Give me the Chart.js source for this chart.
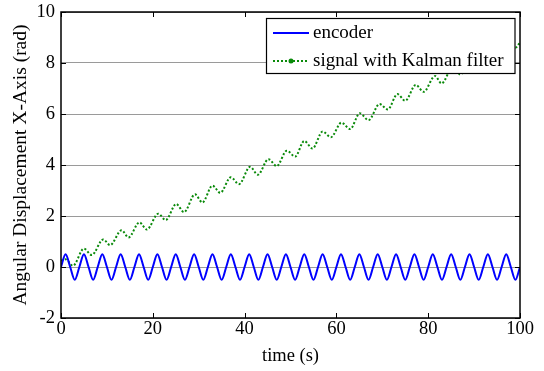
<!DOCTYPE html>
<html>
<head>
<meta charset="utf-8">
<title>Angular Displacement X-Axis</title>
<script src="https://cdn.jsdelivr.net/npm/chart.js@4.4.0/dist/chart.umd.min.js"></script>
<style>
  body { margin: 0; background: #fff; }
  #myChart { display: block; }
</style>
</head>
<body>
<canvas id="myChart" width="544" height="371"></canvas>
<script>
// encoder samples, time in s / angle in rad (quarter period points)
const encTime = [
    0, 1, 2, 3, 4, 5, 6, 7, 8, 9, 10, 11, 12, 13, 14, 15, 16, 17, 18, 19,
    20, 21, 22, 23, 24, 25, 26, 27, 28, 29, 30, 31, 32, 33, 34, 35, 36, 37, 38, 39,
    40, 41, 42, 43, 44, 45, 46, 47, 48, 49, 50, 51, 52, 53, 54, 55, 56, 57, 58, 59,
    60, 61, 62, 63, 64, 65, 66, 67, 68, 69, 70, 71, 72, 73, 74, 75, 76, 77, 78, 79,
    80, 81, 82, 83, 84, 85, 86, 87, 88, 89, 90, 91, 92, 93, 94, 95, 96, 97, 98, 99, 100
];
const encValues = [
    0, 0.5, 0, -0.5, 0, 0.5, 0, -0.5, 0, 0.5, 0, -0.5, 0, 0.5, 0, -0.5, 0, 0.5, 0, -0.5,
    0, 0.5, 0, -0.5, 0, 0.5, 0, -0.5, 0, 0.5, 0, -0.5, 0, 0.5, 0, -0.5, 0, 0.5, 0, -0.5,
    0, 0.5, 0, -0.5, 0, 0.5, 0, -0.5, 0, 0.5, 0, -0.5, 0, 0.5, 0, -0.5, 0, 0.5, 0, -0.5,
    0, 0.5, 0, -0.5, 0, 0.5, 0, -0.5, 0, 0.5, 0, -0.5, 0, 0.5, 0, -0.5, 0, 0.5, 0, -0.5,
    0, 0.5, 0, -0.5, 0, 0.5, 0, -0.5, 0, 0.5, 0, -0.5, 0, 0.5, 0, -0.5, 0, 0.5, 0, -0.5, 0
];

// kalman filter signal - the peaks and dips
const kalTime = [
    0, 1.0, 2.6, 5.0, 6.7, 9.2, 10.7, 13.2, 14.7, 17.1, 18.7, 21.2, 22.8, 25.1, 26.8,
    29.2, 30.8, 33.0, 34.7, 37.0, 38.8, 41.2, 42.9, 45.2, 47.0, 49.2, 51.0, 53.0, 54.8,
    57.0, 58.8, 61.1, 63.0, 65.1, 67.0, 69.4, 71.2, 73.3, 75.0, 77.3, 79.0, 81.5, 82.9,
    85.4, 87.0, 89.4, 91.0, 93.4, 95.0, 97.4, 99.0, 100
];
const kalValues = [
    0.25, 0.3, 0.05, 0.72, 0.47, 1.08, 0.86, 1.44, 1.16, 1.75, 1.47, 2.09, 1.84, 2.47, 2.15,
    2.85, 2.53, 3.19, 2.91, 3.52, 3.25, 3.93, 3.62, 4.23, 3.96, 4.56, 4.33, 4.94, 4.65,
    5.31, 5.09, 5.66, 5.41, 6.03, 5.76, 6.39, 6.18, 6.78, 6.52, 7.14, 6.87, 7.49, 7.2,
    7.85, 7.55, 8.2, 7.9, 8.55, 8.25, 8.9, 8.6, 8.8
];

const xTicks = [0, 20, 40, 60, 80, 100];
const yTicks = [-2, 0, 2, 4, 6, 8, 10];
const seriesNames = ['encoder', 'signal with Kalman filter'];

const serif = '"Liberation Serif", "Times New Roman", serif';
const blue = '#0000ff';
const green = '#0a8a0a';

// box round the plot, matlab style inward ticks and the legend inside the axes
const frame = {
    id: 'frame',
    afterDatasetsDraw(chart) {
        const { ctx, chartArea: a, scales } = chart;
        ctx.save();
        ctx.strokeStyle = '#000';
        ctx.lineWidth = 1;
        ctx.beginPath();
        xTicks.forEach(v => {
            const px = Math.round(scales.x.getPixelForValue(v)) + 0.5;
            ctx.moveTo(px, a.bottom); ctx.lineTo(px, a.bottom - 5);
            ctx.moveTo(px, a.top); ctx.lineTo(px, a.top + 5);
        });
        yTicks.forEach(v => {
            const py = Math.round(scales.y.getPixelForValue(v)) + 0.5;
            ctx.moveTo(a.left, py); ctx.lineTo(a.left + 5, py);
            ctx.moveTo(a.right, py); ctx.lineTo(a.right - 5, py);
        });
        ctx.stroke();
        ctx.lineWidth = 1.5;
        ctx.strokeRect(a.left, a.top, a.right - a.left, a.bottom - a.top);

        // legend
        const bx = 266.5, by = 18.5, bw = 248.5, bh = 55;
        ctx.fillStyle = '#fff';
        ctx.fillRect(bx, by, bw, bh);
        ctx.lineWidth = 1.2;
        ctx.strokeRect(bx, by, bw, bh);

        ctx.lineWidth = 2;
        ctx.strokeStyle = blue;
        ctx.beginPath(); ctx.moveTo(273, 33); ctx.lineTo(309, 33); ctx.stroke();

        ctx.strokeStyle = green;
        ctx.setLineDash([2, 2]);
        ctx.beginPath(); ctx.moveTo(273, 61); ctx.lineTo(309, 61); ctx.stroke();
        ctx.setLineDash([]);
        ctx.fillStyle = green;
        ctx.beginPath(); ctx.arc(291, 61, 2.5, 0, Math.PI * 2); ctx.fill();

        ctx.fillStyle = '#000';
        ctx.font = '19px ' + serif;
        ctx.textBaseline = 'middle';
        ctx.textAlign = 'left';
        ctx.fillText(seriesNames[0], 313, 33);
        ctx.fillText(seriesNames[1], 313, 61);
        ctx.restore();
    }
};

const ctx = document.getElementById('myChart');

new Chart(ctx, {
    type: 'line',
    data: {
        datasets: [{
            label: seriesNames[0],
            data: encTime.map((t, i) => ({ x: t, y: encValues[i] })),
            borderColor: blue,
            borderWidth: 2,
            pointRadius: 0,
            cubicInterpolationMode: 'monotone'
        }, {
            label: seriesNames[1],
            data: kalTime.map((t, i) => ({ x: t, y: kalValues[i] })),
            borderColor: green,
            borderWidth: 2,
            borderDash: [2, 2],
            pointRadius: 0,
            cubicInterpolationMode: 'monotone'
        }]
    },
    options: {
        responsive: false,
        animation: false,
        layout: { padding: { top: 12, right: 24, left: 0, bottom: 0 } },
        plugins: {
            legend: { display: false },
            tooltip: { enabled: false }
        },
        scales: {
            x: {
                type: 'linear',
                min: 0,
                max: 100,
                afterBuildTicks: s => { s.ticks = xTicks.map(v => ({ value: v })); },
                afterFit: s => { s.height = 53; s.paddingLeft = 0; s.paddingRight = 0; },
                grid: { display: false, drawTicks: false },
                border: { display: false },
                ticks: { color: '#000', font: { family: serif, size: 18.5 }, padding: 0, maxRotation: 0 },
                title: {
                    display: true,
                    text: 'time (s)',
                    color: '#000',
                    font: { family: serif, size: 18.5 },
                    padding: { top: 0, bottom: 4 }
                }
            },
            y: {
                min: -2,
                max: 10,
                afterBuildTicks: s => { s.ticks = yTicks.map(v => ({ value: v })); },
                afterFit: s => { s.width = 61; s.paddingTop = 0; s.paddingBottom = 0; },
                grid: { color: '#9a9a9a', lineWidth: 1, drawTicks: false },
                border: { display: false },
                ticks: { color: '#000', font: { family: serif, size: 18.5 }, padding: 6 },
                title: {
                    display: true,
                    text: 'Angular Displacement X-Axis (rad)',
                    color: '#000',
                    font: { family: serif, size: 19.5 },
                    padding: { top: 9, bottom: 0 }
                }
            }
        }
    },
    plugins: [frame]
});
</script>
</body>
</html>
